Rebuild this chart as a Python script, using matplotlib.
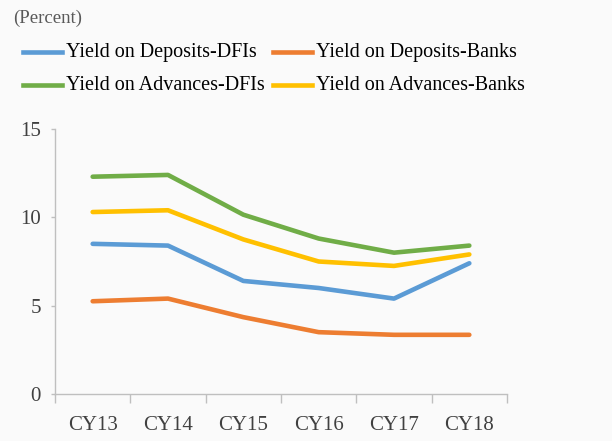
import matplotlib
matplotlib.use("Agg")
import matplotlib.pyplot as plt
from matplotlib.lines import Line2D

# ── Data ──────────────────────────────────────────────────────────────────────
years = ["CY13", "CY14", "CY15", "CY16", "CY17", "CY18"]
dep_dfi = [8.5, 8.4, 6.4, 6.0, 5.4, 7.4]
dep_bank = [5.25, 5.4, 4.35, 3.5, 3.35, 3.35]
adv_dfi = [12.3, 12.4, 10.15, 8.8, 8.0, 8.4]
adv_bank = [10.3, 10.4, 8.75, 7.5, 7.25, 7.9]

names = ["Yield on Deposits-DFIs", "Yield on Deposits-Banks",
         "Yield on Advances-DFIs", "Yield on Advances-Banks"]
colors = ["#5B9BD5", "#ED7D31", "#70AD47", "#FFC000"]

BG = "#FAFAFA"
AX_C = "#BFBFBF"
TXT = "#404040"
FONT = "Liberation Serif"
W, H = 612, 441

fig = plt.figure(figsize=(W / 100, H / 100), dpi=100, facecolor=BG)
ax = fig.add_axes([55 / W, 1 - 394 / H, 452 / W, 265 / H], facecolor=BG)

x = range(len(years))
series = [dep_dfi, dep_bank, adv_dfi, adv_bank]
for vals, c, n in zip(series, colors, names):
    ax.plot(x, vals, color=c, lw=3.3, label=n, solid_capstyle="round")

ax.set_xlim(-0.5, 5.5)
ax.set_ylim(0, 15)
ax.set_yticks([0, 5, 10, 15])
ax.set_xticks(list(x))
ax.set_xticklabels(years)
ax.set_xticks([i - 0.5 for i in range(7)], minor=True)
ax.tick_params(axis="x", which="major", length=0, pad=16)
ax.tick_params(axis="x", which="minor", length=6.5, color=AX_C, width=1)
ax.tick_params(axis="y", length=3, color=AX_C, width=1, pad=7)
for lab in ax.get_xticklabels() + ax.get_yticklabels():
    lab.set_fontsize(15)
    lab.set_color(TXT)
    lab.set_fontfamily(FONT)

for s in ["top", "right"]:
    ax.spines[s].set_visible(False)
for s in ["left", "bottom"]:
    ax.spines[s].set_color(AX_C)
    ax.spines[s].set_linewidth(1)

fig.text(13 / W, 1 - 18 / H, "(Percent)", fontsize=13.5, color="#595959",
         va="center", ha="left", family=FONT)

# legend laid out by hand: two rows, two columns
leg_pos = [(23, 52), (273, 52), (23, 85), (273, 85)]
for (lx, ly), c, n in zip(leg_pos, colors, names):
    fy = 1 - ly / H
    fig.add_artist(Line2D([lx / W, (lx + 39) / W], [fy, fy], color=c, lw=3.3,
                          transform=fig.transFigure))
    fig.text((lx + 43) / W, fy, n, fontsize=14.5, color="black",
             va="center", ha="left", family=FONT)

fig.savefig("out.png", dpi=100, facecolor=BG)
